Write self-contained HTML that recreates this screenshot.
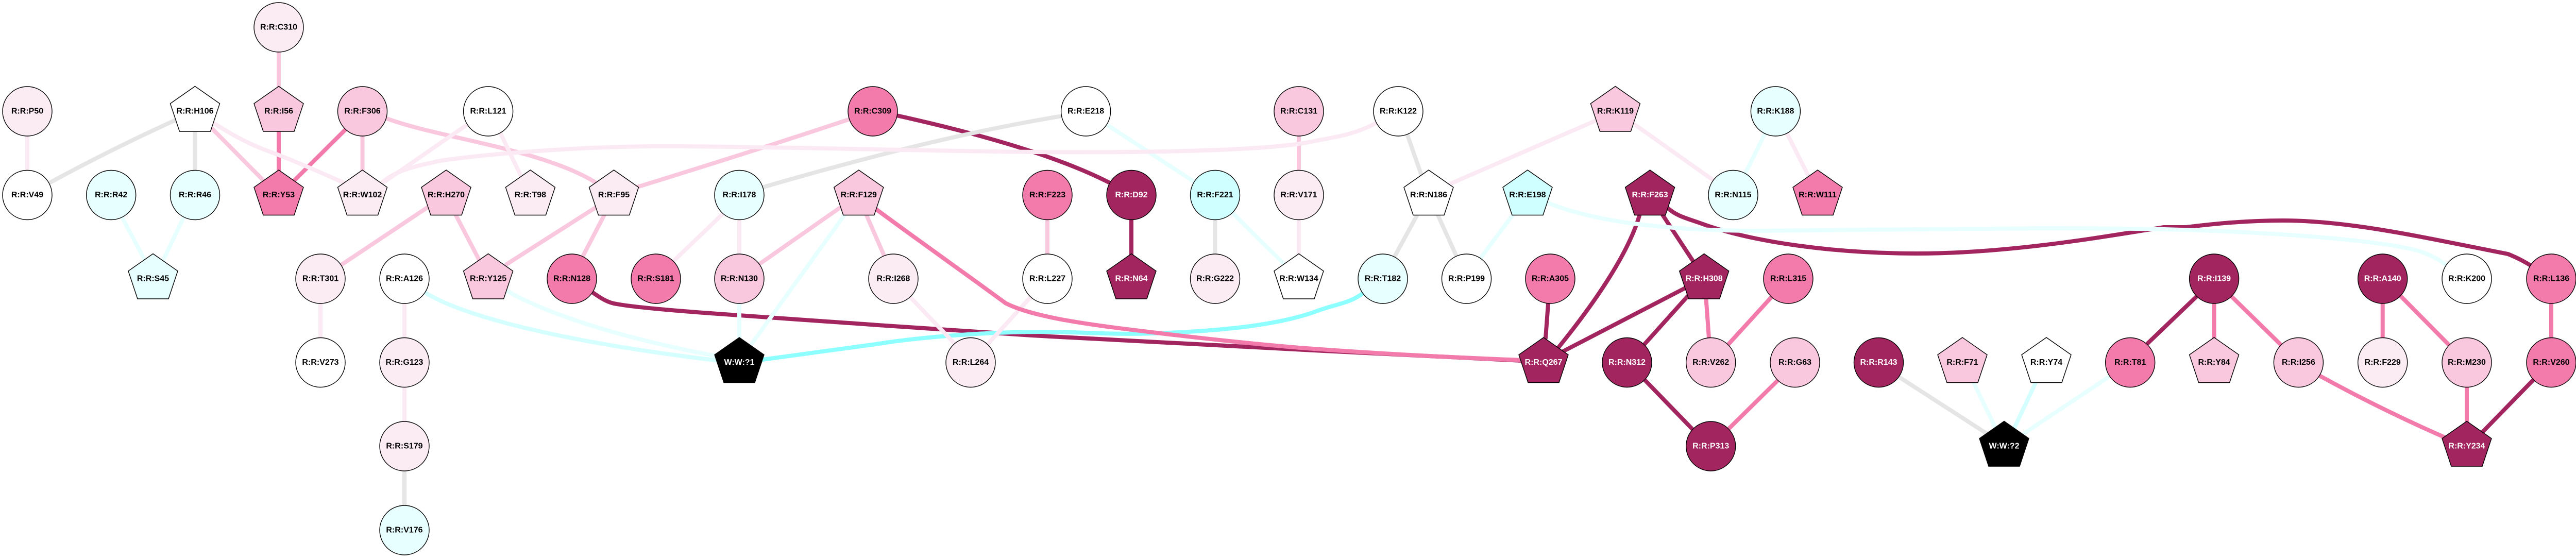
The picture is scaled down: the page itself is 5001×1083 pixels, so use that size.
<!DOCTYPE html>
<html lang="en">
<head>
<meta charset="utf-8">
<title>Residue network</title>
<style>
html,body{margin:0;padding:0;background:#fff;}
body{width:5001px;height:1083px;overflow:hidden;}
svg{display:block;}
.e path{fill:none;stroke-width:8;stroke-linecap:round;stroke-linejoin:round;}
.n circle,.n use{stroke:#000;stroke-width:1.4;}
.t text{font-family:"Liberation Sans",Arial,sans-serif;font-size:16px;font-weight:bold;text-anchor:middle;fill:#000;}
.t text.w{fill:#fff;}
</style>
</head>
<body>
<svg xmlns="http://www.w3.org/2000/svg" width="5001" height="1083" viewBox="0 0 5001 1083">
<defs><polygon id="p" points="0,-48.5 48,-15 30,39 -30,39 -48,-15"/></defs>
<rect width="5001" height="1083" fill="#fff"/>
<g class="e">
<!-- dark -->
<path stroke="#a2255f" d="M1740 224C1880 255 2050 300 2160 358
M1148 566C1165 578 1180 588 1197 590C1260 602 1500 616 1700 630.7C1800 638 1900 645 2003 651C2200 662 2400 672 2550 680L2955 700
M2196 378V541
M3236 403C3255 420 3275 424 3300 433C3400 470 3560 492 3721 492C3900 492 4080 460 4200 441L4243 441C4300 434 4360 428 4431 428C4560 428 4700 460 4868 493C4890 502 4900 508 4915 517
M3183 415C3165 480 3110 570 3022 678
M3227.5 417.7L3287 508
M3271 559L3030 684
M3276 574.6L3192 668
M3005 589L3000 656
M3192 737L3286 834
M4264 575L4168 667
M4916.5 738L4819 838"/>
<!-- strong cyan -->
<path stroke="#8effff" d="M2648 567C2620 590 2590 590 2550 606C2480 630 2380 642 2242 647C2150 650 2100 644 2025 644C1930 644 1800 652 1700 668L1480 698"/>
<!-- gray -->
<path stroke="#e5e5e5" d="M345 231Q215 290 94 356
M378.5 254V340
M2062 225C1880 255 1700 300 1482 363
M2358.5 420V500
M2731.6 261.7L2758.7 339
M2750.5 417.7L2707 497.6
M2791 417.7L2826.4 496
M785 910V990
M3688 733L3856.6 841.7"/>
<!-- lightest pink under the pink edge -->
<path stroke="#fbeaf3" d="M1768 578L1852 666
M2001 576L1917 668"/>
<!-- pink -->
<path stroke="#f27bab" d="M541 254V340
M671 251L572 349.5
M1695 402C1780 465 1900 550 1952 588.5C2010 618 2130 632 2242 645.6C2350 659 2480 672 2550 677C2700 688 2850 695 2955 699
M3311.5 580L3317 656
M3438 577L3355 668
M3451 738L3355 832.6
M4297.6 585V660
M4331 575L4426 668
M4500 728Q4622 795 4748 850
M4624.7 585V660
M4660 575L4752 668
M4788 748V820
M4952 585V660"/>
<!-- light pink -->
<path stroke="#f9c8de" d="M541 100V170
M412 250L512 351
M703.5 260V340
M748 229C850 268 1060 290 1162 358
M829 403L664 513
M885 418L930 504.5
M1159 401L983 513
M1172.5 418L1132 496
M1650 231Q1470 291 1237 363
M1630.5 403L1476 511
M1682 418L1716 496
M2033 425V495
M2521 260V335"/>
<!-- cyan -->
<path stroke="#d5ffff" d="M824 567C900 615 1100 665 1396 700
M3951 743L3910 830"/>
<path stroke="#e8ffff" d="M983 564C1080 620 1250 665 1396 692
M238.5 425L279 501
M355 425L317 504.5
M2150 243L2315 351
M2394 415L2491 511
M1638.6 418L1460 666
M1435 589V655
M2936 417.7L2875 499
M3003 393C3080 425 3200 446 3400 448C3700 446 4000 440 4200 445C4400 450 4620 465 4698 488C4720 496 4735 504 4750 516
M3425.5 260L3387 337.5
M3831 743L3872 828
M4091 733L3928 841.7"/>
<!-- lightest pink -->
<path stroke="#fbeaf3" d="M53 264V340
M412 237Q470 275 520 293T670 356
M908 241L740 357
M738 358C765 330 810 322 850 313C890 305 1100 283 1300 284C1500 284 1900 296 2106 295.5C2300 295 2480 290 2550 274C2590 266 2630 262 2676 236
M972 260L1011 341
M1403 415L1308 506
M1435 426V500
M622 589V660
M785 589V660
M785 750V820
M2521 426V500
M2815.6 356.4L3097.4 234
M3172 241L3325 349.5
M3469 260L3510 341"/>
</g>
<g class="n">
<!-- white -->
<g fill="#ffffff">
<circle cx="53" cy="378.5" r="48"/><circle cx="947.6" cy="216" r="48"/><circle cx="785" cy="541" r="48"/><circle cx="622" cy="703.5" r="48"/><circle cx="2107.6" cy="216" r="48"/><circle cx="2033" cy="541" r="48"/><circle cx="2714" cy="216" r="48"/><circle cx="2846.5" cy="541" r="48"/><circle cx="4788" cy="541" r="48"/>
<use href="#p" x="378.5" y="216"/><use href="#p" x="2521" y="541"/><use href="#p" x="2773" y="378.5"/><use href="#p" x="3972" y="703.5"/>
</g>
<!-- lightest pink -->
<g fill="#fbebf3">
<circle cx="541" cy="53" r="48"/><circle cx="53" cy="216" r="48"/><circle cx="622" cy="541" r="48"/><circle cx="785" cy="703.5" r="48"/><circle cx="785" cy="866" r="48"/><circle cx="1734" cy="541" r="48"/><circle cx="1884" cy="703.5" r="48"/><circle cx="2358.5" cy="541" r="48"/><circle cx="2521" cy="378.5" r="48"/><circle cx="4624.7" cy="703.5" r="48"/>
<use href="#p" x="703.5" y="378.5"/><use href="#p" x="1029.4" y="378.5"/><use href="#p" x="1191.5" y="378.5"/>
</g>
<!-- light pink -->
<g fill="#f9c8de">
<circle cx="703.5" cy="216" r="48"/><circle cx="1435" cy="541" r="48"/><circle cx="2521" cy="216" r="48"/><circle cx="3320.7" cy="703.5" r="48"/><circle cx="3484" cy="703.5" r="48"/><circle cx="4461.4" cy="703.5" r="48"/><circle cx="4788" cy="703.5" r="48"/>
<use href="#p" x="541" y="216"/><use href="#p" x="866" y="378.5"/><use href="#p" x="947.6" y="541"/><use href="#p" x="1666.8" y="378.5"/><use href="#p" x="3135.4" y="216"/><use href="#p" x="3809" y="703.5"/><use href="#p" x="4297.6" y="703.5"/>
</g>
<!-- pink -->
<g fill="#f27bab">
<circle cx="1110" cy="541" r="48"/><circle cx="1273" cy="541" r="48"/><circle cx="1694" cy="216" r="48"/><circle cx="2033" cy="378.5" r="48"/><circle cx="3009" cy="541" r="48"/><circle cx="3471" cy="541" r="48"/><circle cx="4134.7" cy="703.5" r="48"/><circle cx="4952" cy="541" r="48"/><circle cx="4952" cy="703.5" r="48"/>
<use href="#p" x="541" y="378.5"/><use href="#p" x="3528" y="378.5"/>
</g>
<!-- dark -->
<g fill="#a2255f">
<circle cx="2196" cy="378.5" r="48"/><circle cx="3158" cy="703.5" r="48"/><circle cx="3320.7" cy="866" r="48"/><circle cx="3646.5" cy="703.5" r="48"/><circle cx="4297.6" cy="541" r="48"/><circle cx="4624.7" cy="541" r="48"/>
<use href="#p" x="2196" y="541"/><use href="#p" x="3202.6" y="378.5"/><use href="#p" x="3307.7" y="541"/><use href="#p" x="2996" y="703.5"/><use href="#p" x="4788" y="866"/>
</g>
<!-- cyan light -->
<g fill="#e8ffff">
<circle cx="215.7" cy="378.5" r="48"/><circle cx="378.5" cy="378.5" r="48"/><circle cx="785" cy="1029" r="48"/><circle cx="1435" cy="378.5" r="48"/><circle cx="2684" cy="541" r="48"/><circle cx="3364" cy="378.5" r="48"/><circle cx="3446.4" cy="216" r="48"/>
<use href="#p" x="297" y="541"/>
</g>
<!-- cyan -->
<g fill="#d0ffff">
<circle cx="2358.5" cy="378.5" r="48"/>
<use href="#p" x="2965" y="378.5"/>
</g>
<!-- black -->
<g fill="#000000">
<use href="#p" x="1435" y="703.5"/><use href="#p" x="3890" y="866"/>
</g>
</g>
<g class="t">
<text x="541" y="57.5">R:R:C310</text>
<text x="53" y="220.5">R:R:P50</text>
<text x="378.5" y="220.5">R:R:H106</text>
<text x="541" y="220.5">R:R:I56</text>
<text x="703.5" y="220.5">R:R:F306</text>
<text x="947.6" y="220.5">R:R:L121</text>
<text x="1694" y="220.5">R:R:C309</text>
<text x="2107.6" y="220.5">R:R:E218</text>
<text x="2521" y="220.5">R:R:C131</text>
<text x="2714" y="220.5">R:R:K122</text>
<text x="3135.4" y="220.5">R:R:K119</text>
<text x="3446.4" y="220.5">R:R:K188</text>
<text x="53" y="383">R:R:V49</text>
<text x="215.7" y="383">R:R:R42</text>
<text x="378.5" y="383">R:R:R46</text>
<text x="541" y="383">R:R:Y53</text>
<text x="703.5" y="383">R:R:W102</text>
<text x="866" y="383">R:R:H270</text>
<text x="1029.4" y="383">R:R:T98</text>
<text x="1191.5" y="383">R:R:F95</text>
<text x="1435" y="383">R:R:I178</text>
<text x="1666.8" y="383">R:R:F129</text>
<text x="2033" y="383">R:R:F223</text>
<text class="w" x="2196" y="383">R:R:D92</text>
<text x="2358.5" y="383">R:R:F221</text>
<text x="2521" y="383">R:R:V171</text>
<text x="2773" y="383">R:R:N186</text>
<text x="2965" y="383">R:R:E198</text>
<text class="w" x="3202.6" y="383">R:R:F263</text>
<text x="3364" y="383">R:R:N115</text>
<text x="3528" y="383">R:R:W111</text>
<text x="297" y="545.5">R:R:S45</text>
<text x="622" y="545.5">R:R:T301</text>
<text x="785" y="545.5">R:R:A126</text>
<text x="947.6" y="545.5">R:R:Y125</text>
<text x="1110" y="545.5">R:R:N128</text>
<text x="1273" y="545.5">R:R:S181</text>
<text x="1435" y="545.5">R:R:N130</text>
<text x="1734" y="545.5">R:R:I268</text>
<text x="2033" y="545.5">R:R:L227</text>
<text class="w" x="2196" y="545.5">R:R:N64</text>
<text x="2358.5" y="545.5">R:R:G222</text>
<text x="2521" y="545.5">R:R:W134</text>
<text x="2684" y="545.5">R:R:T182</text>
<text x="2846.5" y="545.5">R:R:P199</text>
<text x="3009" y="545.5">R:R:A305</text>
<text class="w" x="3307.7" y="545.5">R:R:H308</text>
<text x="3471" y="545.5">R:R:L315</text>
<text class="w" x="4297.6" y="545.5">R:R:I139</text>
<text class="w" x="4624.7" y="545.5">R:R:A140</text>
<text x="4788" y="545.5">R:R:K200</text>
<text x="4952" y="545.5">R:R:L136</text>
<text x="622" y="708">R:R:V273</text>
<text x="785" y="708">R:R:G123</text>
<text class="w" x="1435" y="708">W:W:?1</text>
<text x="1884" y="708">R:R:L264</text>
<text class="w" x="2996" y="708">R:R:Q267</text>
<text class="w" x="3158" y="708">R:R:N312</text>
<text x="3320.7" y="708">R:R:V262</text>
<text x="3484" y="708">R:R:G63</text>
<text class="w" x="3646.5" y="708">R:R:R143</text>
<text x="3809" y="708">R:R:F71</text>
<text x="3972" y="708">R:R:Y74</text>
<text x="4134.7" y="708">R:R:T81</text>
<text x="4297.6" y="708">R:R:Y84</text>
<text x="4461.4" y="708">R:R:I256</text>
<text x="4624.7" y="708">R:R:F229</text>
<text x="4788" y="708">R:R:M230</text>
<text x="4952" y="708">R:R:V260</text>
<text x="785" y="870.5">R:R:S179</text>
<text class="w" x="3320.7" y="870.5">R:R:P313</text>
<text class="w" x="3890" y="870.5">W:W:?2</text>
<text class="w" x="4788" y="870.5">R:R:Y234</text>
<text x="785" y="1033.5">R:R:V176</text>
</g>
</svg>
</body>
</html>
